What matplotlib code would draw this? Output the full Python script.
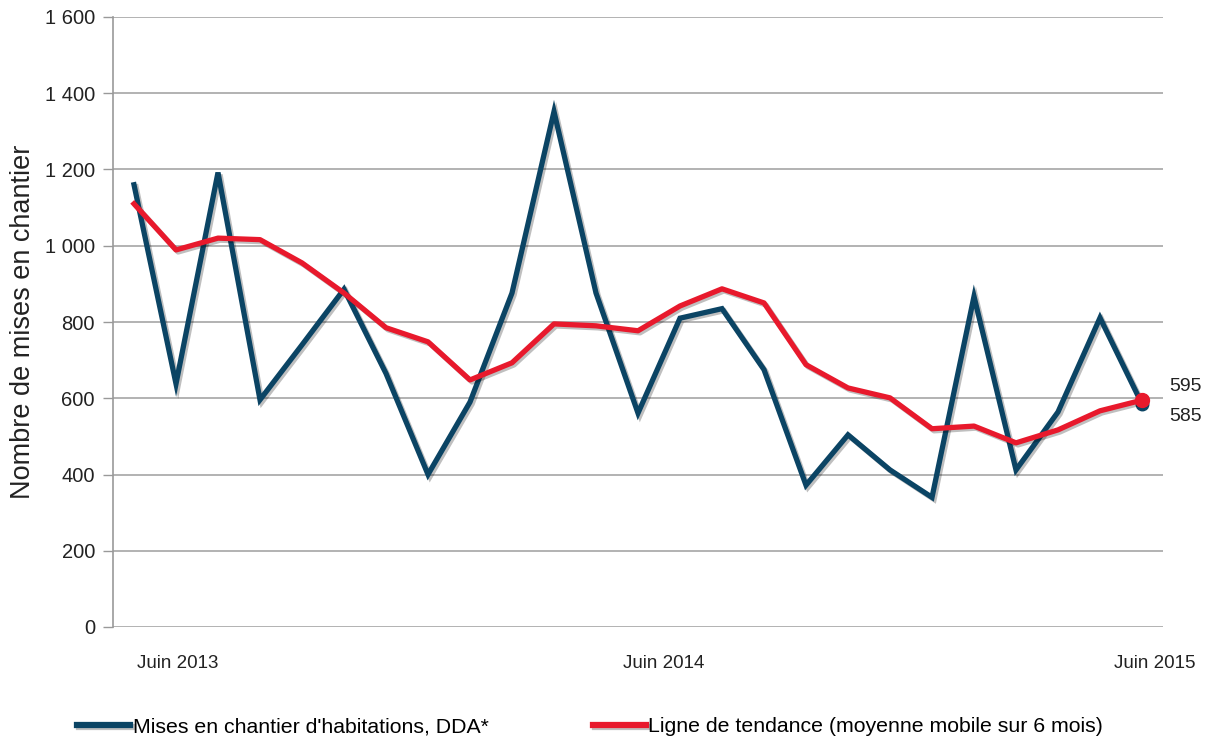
import matplotlib.pyplot as plt
import matplotlib.patheffects as pe

# monthly data, June 2013 -> June 2015
months = ['2013-06', '2013-07', '2013-08', '2013-09', '2013-10', '2013-11', '2013-12',
          '2014-01', '2014-02', '2014-03', '2014-04', '2014-05', '2014-06', '2014-07',
          '2014-08', '2014-09', '2014-10', '2014-11', '2014-12', '2015-01', '2015-02',
          '2015-03', '2015-04', '2015-05', '2015-06']
mises = [1160, 638, 1192, 596, 740, 886, 665, 400, 590, 876, 1352, 876, 561,
         810, 835, 675, 372, 504, 412, 340, 867, 412, 564, 811, 585]
tendance = [1110, 989, 1020, 1016, 955, 876, 785, 748, 648, 693, 795, 790, 777,
            842, 887, 850, 688, 627, 601, 520, 527, 483, 517, 567, 595]

tick_pos = [1.05, 12.6, 24.3]
tick_labels = ['Juin 2013', 'Juin 2014', 'Juin 2015']
yticks = [0, 200, 400, 600, 800, 1000, 1200, 1400, 1600]
ytick_labels = ['0', '200', '400', '600', '800', '1 000', '1 200', '1 400', '1 600']

blue = '#0b4464'
red = '#e8192c'

plt.rcParams['font.family'] = ['Liberation Sans', 'DejaVu Sans']

fig = plt.figure(figsize=(12.11, 7.42), dpi=100)
ax = fig.add_axes([113 / 1211, 1 - 627 / 742, 1050 / 1211, 610 / 742])

x = list(range(len(months)))
shadow = [pe.SimpleLineShadow(offset=(1.5, -1.5), alpha=0.25, shadow_color='black'), pe.Normal()]

ax.plot(x, mises, color=blue, lw=3.8, solid_joinstyle='miter', path_effects=shadow,
        label="Mises en chantier d'habitations, DDA*", zorder=3)
ax.plot(x, tendance, color=red, lw=3.8, path_effects=shadow,
        label='Ligne de tendance (moyenne mobile sur 6 mois)', zorder=4)
ax.plot(x[-1], mises[-1], 'o', color=blue, ms=9, zorder=3)
ax.plot(x[-1], tendance[-1], 'o', color=red, ms=10, zorder=5)

ax.text(x[-1] + 0.65, tendance[-1] + 35, str(tendance[-1]), fontsize=14, va='center', color='#222222')
ax.text(x[-1] + 0.65, mises[-1] - 32, str(mises[-1]), fontsize=14, va='center', color='#222222')

ax.set_xlim(-0.5, 24.5)
ax.set_ylim(0, 1600)
ax.set_yticks(yticks)
ax.set_yticklabels(ytick_labels, fontsize=14.5, color='#222222')
ax.set_xticks(tick_pos)
ax.set_xticklabels(tick_labels, fontsize=13.5, color='#222222')
ax.tick_params(axis='x', length=0, pad=20)
ax.tick_params(axis='y', length=7, width=1, color='#999999', pad=6)
ax.yaxis.grid(True, color='#a6a6a6', lw=1.2)
ax.set_axisbelow(True)
for s in ['top', 'right', 'bottom']:
    ax.spines[s].set_visible(False)
ax.spines['left'].set_color('#999999')
ax.spines['left'].set_linewidth(1.2)

ax.set_ylabel('Nombre de mises en chantier', fontsize=19.5, color='#222222', labelpad=6)

leg = fig.legend(loc='lower left', bbox_to_anchor=(58 / 1211, -0.018), ncol=2, frameon=False,
                 prop={'size': 15.3}, handlelength=2.5, columnspacing=4.9,
                 handletextpad=0.12)
for h in leg.legend_handles:
    h.set_linewidth(4.5)

fig.savefig('out.png', dpi=100)
